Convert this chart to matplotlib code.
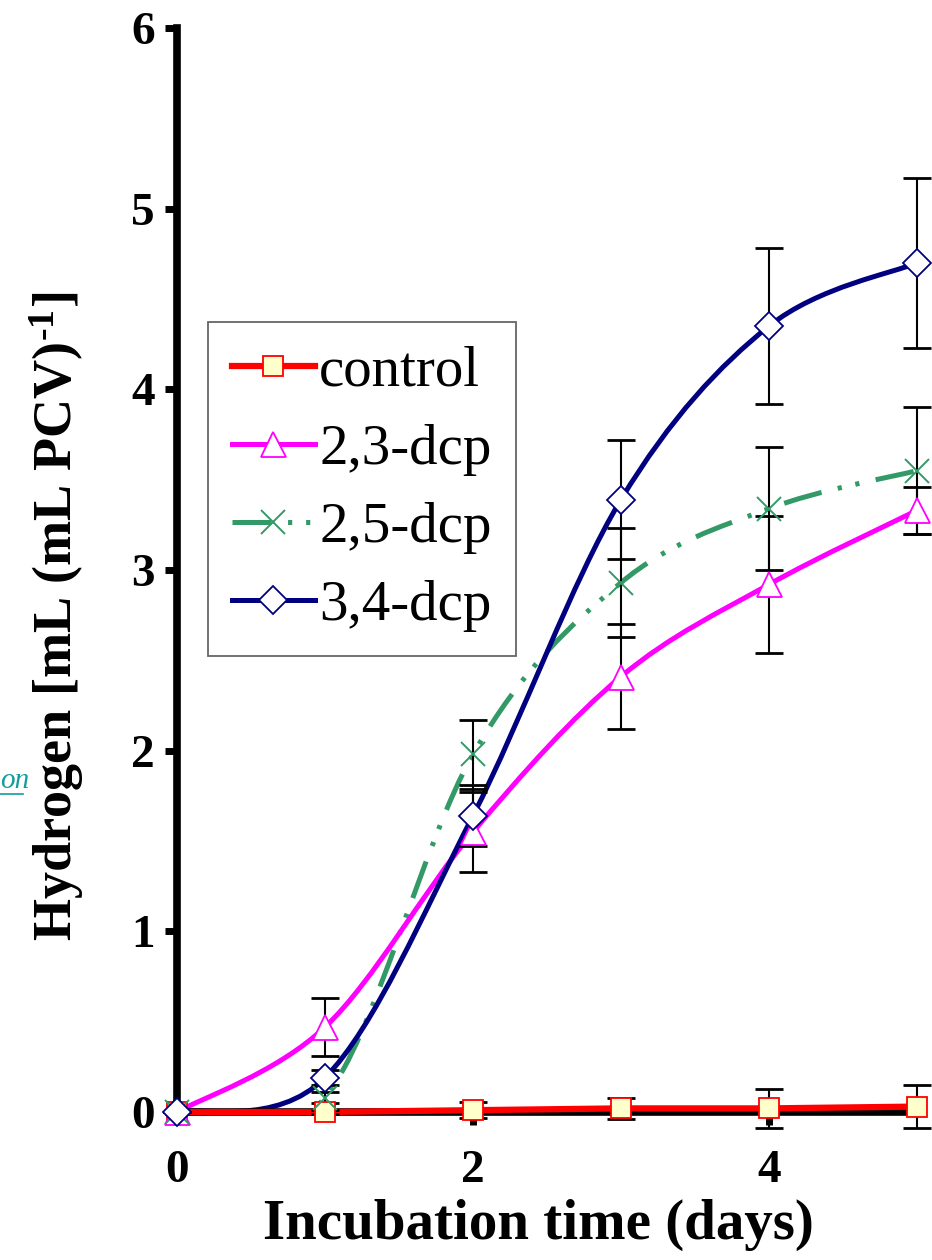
import numpy as np
import matplotlib
matplotlib.use("Agg")
from matplotlib import pyplot as plt
from matplotlib.path import Path
from matplotlib.patches import PathPatch, Rectangle
from matplotlib.lines import Line2D

# fonts
plt.rcParams['font.family'] = ['Liberation Serif', 'DejaVu Serif']
plt.rcParams['mathtext.fontset'] = 'custom'
plt.rcParams['mathtext.rm'] = 'Liberation Serif:bold'
plt.rcParams['mathtext.bf'] = 'Liberation Serif:bold'
plt.rcParams['mathtext.default'] = 'bf'
plt.rcParams['lines.scale_dashes'] = False

# data
days = [0, 1, 2, 3, 4, 5]
control = [0, 0.00, 0.01, 0.02, 0.02, 0.03]
control_err = [0, 0.01, 0.045, 0.06, 0.11, 0.12]
dcp23 = [0, 0.47, 1.55, 2.41, 2.92, 3.33]
dcp23_err = [0, 0.16, 0.22, 0.29, 0.38, 0.13]
dcp25 = [0, 0.08, 1.98, 2.93, 3.34, 3.55]
dcp25_err = [0, 0.03, 0.19, 0.30, 0.34, 0.35]
dcp34 = [0, 0.19, 1.64, 3.39, 4.35, 4.70]
dcp34_err = [0, 0.04, 0.17, 0.33, 0.43, 0.47]
labels = ['control', '2,3-dcp', '2,5-dcp', '3,4-dcp']


def smooth_path(x, y):
    # bezier smoothing like the spreadsheet "smoothed line"
    pts = np.column_stack([x, y]).astype(float)
    n = len(pts)
    verts = [pts[0]]
    codes = [Path.MOVETO]
    for i in range(n - 1):
        p0 = pts[max(i - 1, 0)]
        p1 = pts[i]
        p2 = pts[i + 1]
        p3 = pts[min(i + 2, n - 1)]
        verts += [p1 + (p2 - p0) / 6, p2 - (p3 - p1) / 6, p2]
        codes += [Path.CURVE4] * 3
    return Path(verts, codes)


fig = plt.figure(figsize=(9.32, 12.6), dpi=100)
ax = fig.add_axes([177/932, 148/1260, 740/932, 1084/1260])
ax.set_xlim(0, 5)
ax.set_ylim(0, 6)

green_dash = (0, (28, 12, 3, 10, 3, 12))
series = [
    # values, errors, line colour, ls, lw, marker, ms, face, smooth, zorder
    (control, control_err, '#FF0000', '-', 4.5, 's', 14, '#FFFFCC', False, 3.2),
    (dcp23, dcp23_err, '#FF00FF', '-', 3.6, '^', 18, 'white', True, 2.2),
    (dcp25, dcp25_err, '#339966', green_dash, 3.6, 'x', 17, 'none', True, 2.1),
    (dcp34, dcp34_err, '#000080', '-', 3.6, 'D', 14, 'white', True, 2.3),
]

clip = Rectangle((0, -0.02), 5.2, 6.2, transform=ax.transData)
handles = []
for vals, errs, col, ls, lw, mk, ms, face, smooth, z in series:
    if smooth:
        path = smooth_path(days, vals)
    else:
        path = Path(np.column_stack([days, vals]))
    patch = PathPatch(path, fill=False, edgecolor=col, lw=lw, linestyle=ls,
                      capstyle='butt', zorder=z)
    ax.add_patch(patch)
    patch.set_clip_path(clip)
    ax.errorbar(days, vals, yerr=errs, fmt='none', ecolor='black',
                elinewidth=1.5, capsize=10, capthick=2, zorder=6, clip_on=False)
    mew = 1.3 if mk != 'x' else 1.4
    ax.plot(days, vals, ls='none', marker=mk, ms=ms, mfc=face, mec=col,
            mew=mew, zorder=7, clip_on=False)
    handles.append(Line2D([], [], color=col, lw=lw, ls=ls, marker=mk, ms=ms,
                          mfc=face, mec=col, mew=mew))

for s in ['top', 'right']:
    ax.spines[s].set_visible(False)
for s in ['left', 'bottom']:
    ax.spines[s].set_linewidth(5.5)
    ax.spines[s].set_zorder(2.5)

ax.set_yticks(range(0, 7))
ax.set_xticks([0, 2, 4])
ax.tick_params(axis='both', direction='out', length=9, width=5,
               labelsize=34)
ax.tick_params(axis='y', pad=7)
ax.tick_params(axis='x', pad=18)
for t in ax.get_xticklabels() + ax.get_yticklabels():
    t.set_fontweight('bold')

ax.set_xlabel('Incubation time (days)', fontsize=41, fontweight='bold')
ax.xaxis.set_label_coords(0.488, -0.104)
ax.xaxis.label.set_va('center')
ax.set_ylabel(r'Hydrogen [mL (mL PCV)$^{\text{-1}}$]', fontsize=39,
              fontweight='bold', va='center', ha='center')
ax.yaxis.set_label_coords(-0.163, 0.457)

leg = ax.legend(handles, labels, loc='upper left',
                bbox_to_anchor=(0.042, 0.729), borderaxespad=0,
                fontsize=41, frameon=True, fancybox=False, handlelength=1.45,
                handletextpad=0.08, labelspacing=0.46, borderpad=0.42,
                numpoints=1)
leg.get_frame().set_edgecolor('#404040')
leg.get_frame().set_linewidth(1.3)
leg.set_zorder(8)

# link text that sits at the left edge of the picture
fig.text(0.0, 1 - 788/1260, 'on', color='#139C9C', fontsize=21,
         style='italic', va='baseline', ha='left')
fig.add_artist(Line2D([0, 23/932], [1 - 794/1260, 1 - 794/1260],
                      color='#139C9C', lw=1.2))

fig.savefig('out.png', dpi=100)
